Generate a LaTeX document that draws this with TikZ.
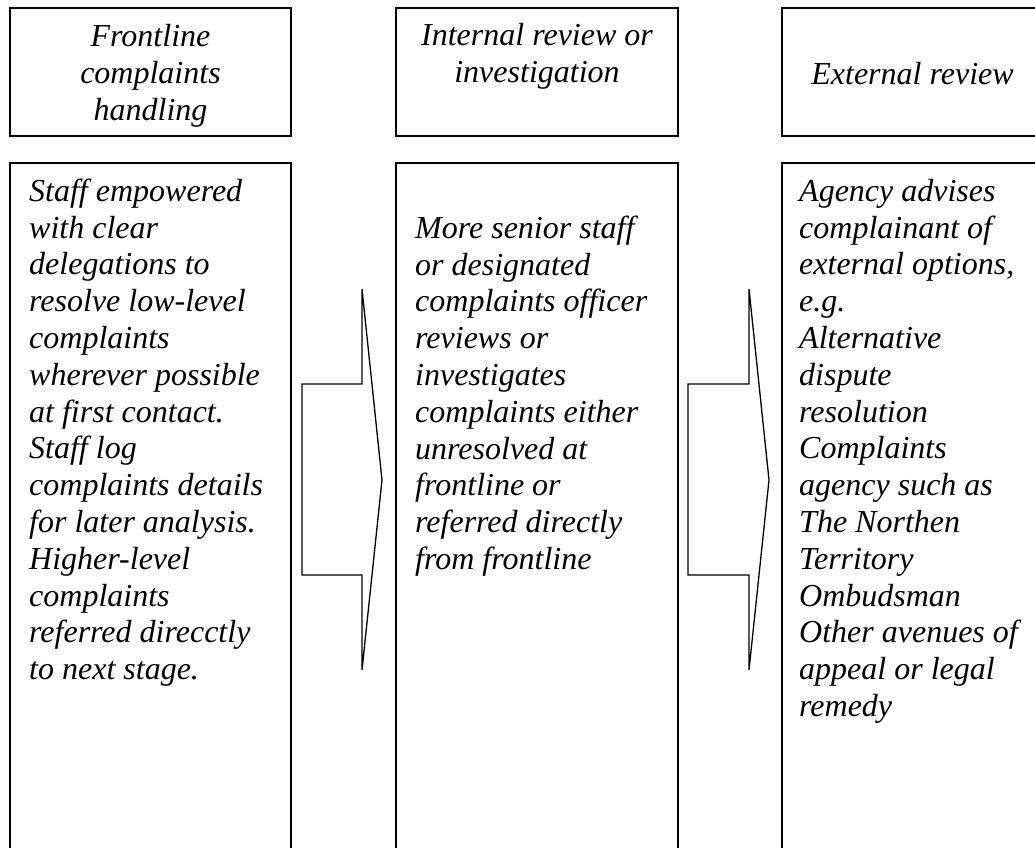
\documentclass[tikz,border=0pt]{standalone}
\usepackage{fontspec}
\setmainfont{Liberation Serif}
\newcommand{\firstline}{\rule{0pt}{28pt}}
\begin{document}
\begin{tikzpicture}[x=1pt,y=-1pt,
  frame/.style={draw=black,line width=1.7pt,fill=none},
  txt/.style={inner sep=0pt,align=left,anchor=north west,
    font=\fontsize{32}{36.8}\selectfont\itshape},
  htxt/.style={inner sep=0pt,align=center,anchor=north,
    font=\fontsize{32}{37}\selectfont\itshape},
  blockarrow/.style={draw=black,line width=1.3pt,fill=white,line join=miter}]
\useasboundingbox (0,0) rectangle (1035,847);
\clip (0,0) rectangle (1035,847);
% header boxes
\draw[frame] (10,8) rectangle (291,136);
\draw[frame] (396,8) rectangle (678,136);
\draw[frame] (782,8) rectangle (1063,136);
% content boxes
\draw[frame] (10,163) rectangle (291,900);
\draw[frame] (396,163) rectangle (678,900);
\draw[frame] (782,163) rectangle (1063,900);
% header texts (first baseline = y + 28)
\node[htxt] (h1) at (150.5,18) {\firstline Frontline\\complaints\\handling};
\node[htxt] (h2) at (537,17) {\firstline Internal review or\\investigation};
\node[htxt] (h3) at (912.5,56) {\firstline External review};
% body texts
\node[txt] (t1) at (29,173) {\firstline Staff empowered\\with clear\\delegations to\\resolve low-level\\complaints\\wherever possible\\at first contact.\\Staff log\\complaints details\\for later analysis.\\Higher-level\\complaints\\referred direcctly\\to next stage.};
\node[txt] (t2) at (415,210) {\firstline More senior staff\\or designated\\complaints officer\\reviews or\\investigates\\complaints either\\unresolved at\\frontline or\\referred directly\\from frontline};
\node[txt] (t3) at (799,173) {\firstline Agency advises\\complainant of\\external options,\\e.g.\\Alternative\\dispute\\resolution\\Complaints\\agency such as\\The Northen\\Territory\\Ombudsman\\Other avenues of\\appeal or legal\\remedy};
% block arrows
\draw[blockarrow] (302,384) -- (362,384) -- (362,289) -- (382,480) -- (362,670) -- (362,575) -- (302,575) -- cycle;
\draw[blockarrow] (688,384) -- (749,384) -- (749,289) -- (769,480) -- (749,670) -- (749,575) -- (688,575) -- cycle;
\end{tikzpicture}
\end{document}
